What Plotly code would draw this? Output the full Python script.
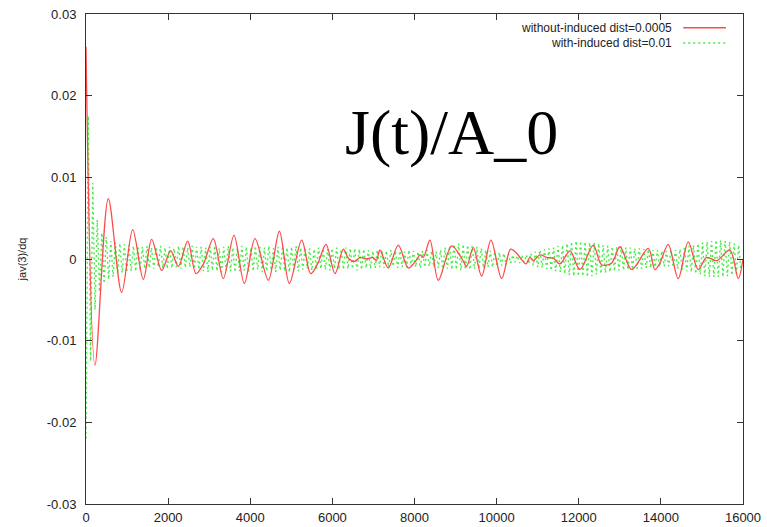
import numpy as np
import plotly.graph_objects as go

# Current response curve without induced disturbance: turning points (time, value)
red_t = [0, 219, 543, 869, 1137, 1396, 1600, 1843, 2062, 2249, 2477, 2679, 2860,
         3100, 3344, 3604, 3856, 4116, 4441, 4709, 4952, 5253, 5472, 5640, 5845,
         6064, 6267, 6390, 6550, 6670, 6830, 6990, 7070, 7159, 7361, 7605, 7848,
         8052, 8133, 8213, 8376, 8579, 8905, 9160, 9270, 9431, 9635, 9862, 10122,
         10341, 10487, 10714, 10811, 10892, 11055, 11218, 11379, 11542, 11785,
         12029, 12353, 12557, 12801, 13003, 13288, 13692, 13855, 13977, 14179,
         14422, 14666, 14909, 15114, 15358, 15681, 15883, 16000]
red_v = [0.0260, -0.0130, 0.0074, -0.0041, 0.0036, -0.0025, 0.0024, -0.0014,
         0.0010, -0.0009, 0.0022, -0.0018, -0.0006, 0.0025, -0.0024, 0.0029,
         -0.0030, 0.0025, -0.0026, 0.0034, -0.0030, 0.0023, -0.0018, -0.0006,
         0.0018, -0.0018, 0.0012, 0.0001, -0.0003, 0.0002, 0.0000, 0.0002,
         -0.0002, 0.0011, -0.0011, 0.0017, -0.0011, -0.0001, 0.0005, 0.0002,
         0.0023, -0.0026, 0.0016, 0.0000, -0.0009, 0.0014, -0.0021, 0.0023,
         -0.0024, 0.0012, 0.0007, -0.0006, 0.0002, -0.0002, 0.0005, 0.0002,
         0.0001, -0.0006, 0.0010, -0.0013, 0.0017, -0.0007, -0.0005, 0.0015,
         -0.0013, 0.0013, -0.0013, -0.0005, 0.0018, -0.0024, 0.0021, -0.0013,
         0.0002, -0.0002, 0.0011, -0.0024, 0.0000]

# Current response with induced disturbance: successive extrema (units of 1e-4),
# one every green_dt time units
green_dt = 55
green_e4 = [
    -220, 175, -125, 93, -62, 48, -40, 32, -30, 27,
    -25, 22, -22, 20, -18, 19, -17, 18, -16, 17,
    -15, 16, -15, 16, -14, 15, -12, 16, -11, 14,
    -12, 15, -10, 16, -11, 14, -12, 15, -11, 13,
    -10, 16, -12, 15, -11, 14, -10, 16, -12, 15,
    -13, 15, -15, 14, -16, 15, -14, 16, -15, 13,
    -16, 15, -14, 16, -15, 14, -16, 13, -15, 16,
    -14, 15, -16, 14, -15, 16, -13, 15, -16, 14,
    -15, 16, -14, 13, -16, 15, -14, 16, -15, 14,
    -16, 15, -13, 16, -15, 14, -13, 14, -12, 13,
    -14, 12, -13, 14, -12, 13, -13, 12, -14, 13,
    -12, 14, -13, 12, -13, 14, -12, 13, -12, 13,
    -14, 12, -13, 12, -11, 11, -12, 10, -11, 11,
    -10, 11, -11, 10, -10, 11, -9, 10, -11, 10,
    -10, 9, -10, 11, -9, 10, -10, 9, -11, 10,
    -10, 11, -9, 10, -10, 9, -11, 11, -12, 14,
    -12, 16, -13, 18, -13, 19, -14, 18, -13, 17,
    -13, 16, -12, 15, -12, 13, -11, 11, -10, 10,
    -10, 9, -9, 8, -8, 7, -7, 6, -5, 5,
    -4, 4, -5, 5, -4, 5, -6, 7, -8, 9,
    -10, 11, -11, 12, -12, 13, -14, 14, -15, 16,
    -16, 17, -18, 19, -20, 21, -21, 22, -21, 22,
    -21, 21, -22, 20, -21, 20, -19, 19, -18, 17,
    -17, 16, -16, 15, -15, 15, -14, 15, -14, 14,
    -13, 14, -13, 13, -12, 13, -12, 12, -11, 12,
    -11, 11, -10, 11, -10, 10, -9, 10, -9, 10,
    -10, 11, -12, 12, -13, 14, -15, 16, -16, 17,
    -18, 19, -19, 20, -21, 21, -22, 22, -22, 23,
    -22, 23, -22, 22, -21, 21, -20, 19, -18, 17,
    -15,
]
green_v = np.array(green_e4) * 1e-4
green_t = np.arange(len(green_v)) * green_dt

x_ticks = [0, 2000, 4000, 6000, 8000, 10000, 12000, 14000, 16000]
y_ticks = [-0.03, -0.02, -0.01, 0, 0.01, 0.02, 0.03]
y_tick_text = ["-0.03", "-0.02", "-0.01", "0", "0.01", "0.02", "0.03"]

series_names = ["without-induced dist=0.0005", "with-induced dist=0.01"]
RED = "#ff4a4a"
GREEN = "#44ec44"
GREEN_DASH = "2px,3px"

fig = go.Figure()
fig.add_trace(go.Scatter(x=green_t, y=green_v, mode="lines", name=series_names[1],
                         line=dict(color=GREEN, width=1.4, dash=GREEN_DASH)))
fig.add_trace(go.Scatter(x=red_t, y=red_v, mode="lines", name=series_names[0],
                         line=dict(color=RED, width=1.3, shape="spline", smoothing=0.9)))

axis_common = dict(showline=True, linecolor="#333", linewidth=1, mirror="allticks",
                   ticks="inside", ticklen=6, tickcolor="#333", showgrid=False,
                   zeroline=False, automargin=False,
                   tickfont=dict(family="Liberation Sans, Arial", size=13, color="#222"))

fig.update_layout(
    width=767, height=527,
    margin=dict(l=86, r=24, t=14, b=23),
    paper_bgcolor="white", plot_bgcolor="white",
    showlegend=False,
    xaxis=dict(range=[0, 16000], tickvals=x_ticks, ticktext=[str(v) for v in x_ticks],
               ticklabelstandoff=1, **axis_common),
    yaxis=dict(range=[-0.03, 0.03], tickvals=y_ticks, ticktext=y_tick_text,
               ticklabelstandoff=6, **axis_common),
)

# y-axis caption
fig.add_annotation(text="jav(3)/dq", xref="paper", yref="paper", x=-0.109, y=0.5,
                   textangle=-90, showarrow=False,
                   font=dict(family="Liberation Sans, Arial", size=11, color="#222"))

# large serif title inside the frame
fig.add_annotation(text="J(t)/A_0", xref="paper", yref="paper", x=0.556, y=0.758,
                   showarrow=False, xanchor="center", yanchor="middle",
                   font=dict(family="Liberation Serif, Times New Roman", size=64, color="black"))

# key, text on the left of each line sample
key_rows = [(0.972, RED, "solid"), (0.941, GREEN, GREEN_DASH)]
for name, (yk, col, dash) in zip(series_names, key_rows):
    fig.add_annotation(text=name, xref="paper", yref="paper", x=0.895, y=yk,
                       xanchor="right", yanchor="middle", showarrow=False,
                       font=dict(family="Liberation Sans, Arial", size=12, color="#222"))
    fig.add_shape(type="line", xref="paper", yref="paper", x0=0.909, x1=0.974,
                  y0=yk, y1=yk, line=dict(color=col, width=1.5, dash=dash))

fig.write_html("out.html")
